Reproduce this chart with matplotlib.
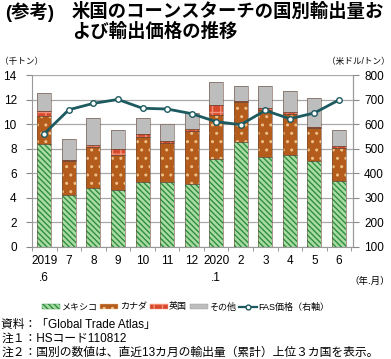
import matplotlib
matplotlib.use("Agg")
import matplotlib.pyplot as plt
from matplotlib.patches import Patch
from matplotlib.lines import Line2D
import numpy as np

plt.rcParams['font.family'] = ['Liberation Sans', 'Noto Sans CJK JP', 'DejaVu Sans']
plt.rcParams['hatch.linewidth'] = 1.0

# データ（千トン、米ドル/トン）
meses = ['2019\n.6', '7', '8', '9', '10', '11', '12', '2020\n.1', '2', '3', '4', '5', '6']
mexico = [8.4, 4.2, 4.8, 4.6, 5.3, 5.3, 5.1, 7.2, 8.6, 7.3, 7.5, 7.0, 5.4]
canada = [2.3, 2.8, 3.35, 2.9, 3.7, 3.15, 4.4, 3.55, 3.2, 3.85, 3.35, 2.7, 2.65]
uk = [0.4, 0.05, 0.13, 0.5, 0.22, 0.18, 0.15, 0.8, 0.1, 0.16, 0.13, 0.08, 0.2]
otros = [1.5, 1.75, 2.24, 1.51, 1.33, 1.39, 1.28, 1.91, 1.26, 1.81, 1.76, 2.38, 1.29]
fas = [562, 660, 686, 702, 666, 663, 644, 611, 599, 657, 623, 647, 700]

series = [
    ('メキシコ', mexico, '#a9dca3', '#2f8c40', '\\\\\\\\\\\\'),
    ('カナダ', canada, '#b35c1c', '#eebf86', '..'),
    ('英国', uk, '#d84a2e', '#f29078', '++'),
    ('その他', otros, '#bdbdbd', None, None),
]

fig = plt.figure(figsize=(3.91, 3.59), dpi=100)
ax = fig.add_axes([0.0818, 0.3128, 0.821, 0.4769])
x = np.arange(len(meses))
ancho = 0.57
base = np.zeros(len(meses))
handles = []
for nombre, vals, fc, hc, hatch in series:
    vals = np.array(vals)
    ax.bar(x, vals, ancho, bottom=base, color=fc, linewidth=0, zorder=2)
    if hatch:
        ax.bar(x, vals, ancho, bottom=base, facecolor='none', edgecolor=hc,
               hatch=hatch, linewidth=0, zorder=2)
    ax.bar(x, vals, ancho, bottom=base, facecolor='none', edgecolor='#6a4a3a',
           linewidth=0.4, zorder=3)
    base += vals
    handles.append(Patch(facecolor=fc, edgecolor=hc if hc else '#9a9a9a',
                         hatch=hatch, linewidth=0.3, label=nombre))

ax.set_xlim(-0.48, 12.57)
ax.set_ylim(0, 14)
ax.set_yticks(range(0, 15, 2))
ax.grid(axis='y', color='#a8a8a8', linewidth=0.9, zorder=0)
ax.set_axisbelow(True)
ax.set_xticks(x)
ax.set_xticklabels(meses, fontsize=8.5, linespacing=1.6)
ax.set_xticks(np.arange(-0.5, 13, 1), minor=True)
ax.tick_params(axis='x', which='major', length=0, pad=6)
ax.tick_params(axis='x', which='minor', length=3, color='#888888')
ax.tick_params(axis='y', labelsize=8.5, length=4, color='#888888', pad=7)
ax.spines['top'].set_visible(False)
for s in ['left', 'bottom', 'right']:
    ax.spines[s].set_color('#999999')

ax2 = ax.twinx()
ax2.set_ylim(100, 800)
ax2.set_yticks(range(100, 801, 100))
ax2.tick_params(axis='y', labelsize=8.5, length=4, color='#888888', pad=4)
for s in ['top', 'left', 'bottom']:
    ax2.spines[s].set_visible(False)
ax2.spines['right'].set_color('#999999')
ax2.plot(x, fas, color='#1c5a60', linewidth=2, marker='o', markersize=4,
         markerfacecolor='white', markeredgecolor='#1c5a60', markeredgewidth=1, zorder=5)
handles.append(Line2D([], [], color='#1c5a60', linewidth=1.6, marker='o', markersize=3.5,
                      markerfacecolor='white', label='FAS価格（右軸）'))

fig.legend(handles=handles, loc='center', bbox_to_anchor=(0.475, 0.145), ncol=5,
           frameon=False, fontsize=6.5, handlelength=2.0, handleheight=0.5,
           handletextpad=0.15, columnspacing=0.3, borderaxespad=0)

fig.text(0.012, 0.966, '(参考)', fontsize=13.2, fontweight='bold', va='center', ha='left')
fig.text(0.184, 0.966, '米国のコーンスターチの国別輸出量お', fontsize=13.2,
         fontweight='bold', va='center', ha='left')
fig.text(0.184, 0.910, 'よび輸出価格の推移', fontsize=13.2, fontweight='bold',
         va='center', ha='left')
fig.text(0.0, 0.828, '（千トン）', fontsize=6.2, va='center', ha='left')
fig.text(0.998, 0.828, '（米ドル/トン）', fontsize=6.2, va='center', ha='right')
fig.text(0.997, 0.217, '（年.月）', fontsize=6.8, va='center', ha='right')

fig.text(0.003, 0.094, '資料：「Global Trade Atlas」', fontsize=8.5, va='center', ha='left')
fig.text(0.003, 0.055, '注１：HSコード110812', fontsize=8.5, va='center', ha='left')
fig.text(0.003, 0.016, '注２：国別の数値は、直近13カ月の輸出量（累計）上位３カ国を表示。',
         fontsize=8.5, va='center', ha='left')

fig.savefig('out.png', dpi=100)
